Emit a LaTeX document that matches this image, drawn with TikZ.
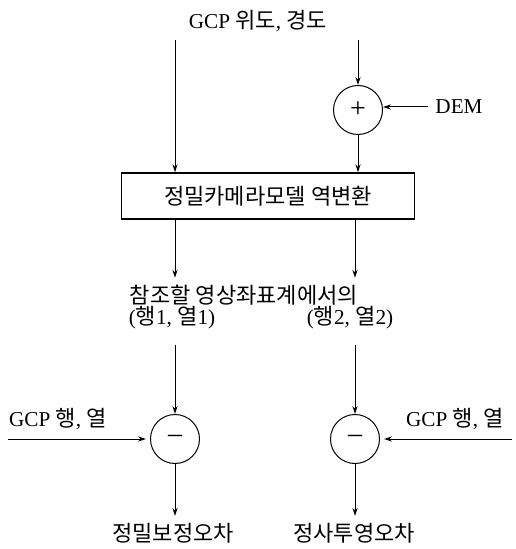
\documentclass[tikz,border=0pt]{standalone}
\usepackage{fontspec}
\setmainfont{Liberation Serif}
\newfontfamily\kr[Scale=1.04]{Noto Sans CJK KR}
\usetikzlibrary{arrows.meta}

\begin{document}
\begin{tikzpicture}[x=0.5pt,y=-0.5pt,font=\fontsize{10.6}{12.5}\selectfont,
    every path/.style={line width=0.5pt},
    arr/.style={-{Stealth[length=4pt,width=2.6pt]}},
    sum/.style={draw,circle,minimum size=24.5pt,inner sep=0pt,font=\fontsize{14}{14}\selectfont},
    box/.style={draw,minimum width=146.5pt,minimum height=23pt,line width=0.7pt}]
    \useasboundingbox (0,0) rectangle (515,549);
    \node (src) at (258,21) {GCP {\kr 위도}, {\kr 경도}};
    \coordinate (l0) at (175,40);
    \coordinate (r0) at (358,40);
    \node[sum] (plus) at (358,110) {+};
    \node (dem) at (459,107) {DEM};
    \node[box] (cam) at (268,196) {\kr 정밀카메라모델 역변환};
    \node (ref) at (244,295) {\kr 참조할 영상좌표계에서의};
    \node (rc1) at (172,318) {({\kr 행}1, {\kr 열}1)};
    \node (rc2) at (350,318) {({\kr 행}2, {\kr 열}2)};
    \node[sum] (m1) at (175,439) {--};
    \node[sum] (m2) at (355,439) {--};
    \node (g1) at (58,419) {GCP {\kr 행}, {\kr 열}};
    \node (g2) at (455,419) {GCP {\kr 행}, {\kr 열}};
    \coordinate (g1in) at (8,439);
    \coordinate (g2in) at (512,439);
    \node (e1) at (173,533) {\kr 정밀보정오차};
    \node (e2) at (354,533) {\kr 정사투영오차};

    \draw[arr] (l0) -- (l0 |- cam.north);
    \draw[arr] (r0) -- (plus.north);
    \draw[arr] (dem.west) -- (dem.west -| plus.east);
    \draw[arr] (plus.south) -- (plus.south |- cam.north);
    \draw[arr] (cam.south -| m1) -- (ref.north -| m1);
    \draw[arr] (cam.south -| m2) -- (ref.north -| m2);
    \draw[arr,shorten <=4pt] (rc1.south -| m1) -- (m1.north);
    \draw[arr,shorten <=4pt] (rc2.south -| m2) -- (m2.north);
    \draw[arr,shorten >=2pt] (g1in) -- (m1.west);
    \draw[arr,shorten >=2pt] (g2in) -- (m2.east);
    \draw[arr] (m1.south) -- (e1.north -| m1);
    \draw[arr] (m2.south) -- (e2.north -| m2);
\end{tikzpicture}
\end{document}
